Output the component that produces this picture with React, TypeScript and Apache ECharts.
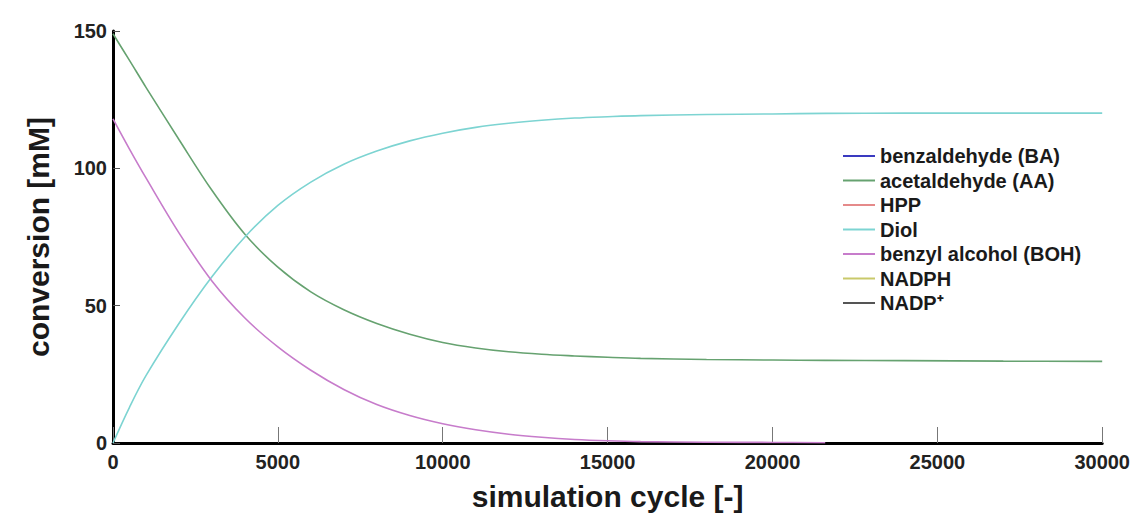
import React, { useEffect, useRef } from "react";
import * as echarts from "echarts";

// Simulation cycles at which concentrations were sampled
const cycles = [0, 500, 1000, 2000, 3000, 4000, 5000, 6000, 7000, 8000, 9000, 10000, 11000, 12000, 13000, 14000, 15000, 16000, 18000, 20000, 21600, 24000, 27000, 30000];

// Concentrations in mM
const benzaldehyde: (number | null)[] = [];
const acetaldehyde = [149, 139.3, 129.5, 110.5, 92, 76, 64, 55, 48.5, 43.5, 39.6, 36.6, 34.6, 33.2, 32.3, 31.7, 31.2, 30.8, 30.4, 30.2, 30.1, 30.0, 29.8, 29.7];
const hpp: (number | null)[] = [];
const diol = [0, 13, 24.5, 43.5, 60.5, 75, 86.5, 95, 101.5, 106.3, 110, 112.8, 114.9, 116.4, 117.5, 118.3, 118.8, 119.2, 119.6, 119.8, 120, 120.1, 120.1, 120.1];
const benzylAlcohol = [118, 107, 96.5, 76.5, 59, 45.5, 35, 26.5, 19.5, 14, 10, 7, 4.8, 3.2, 2.1, 1.3, 0.8, 0.5, 0.3, 0.2, 0.1, null, null, null];
const nadph: (number | null)[] = [];
const nadp: (number | null)[] = [];

const seriesNames = ["benzaldehyde (BA)", "acetaldehyde (AA)", "HPP", "Diol", "benzyl alcohol (BOH)", "NADPH", "NADP⁺"];
const seriesValues = [benzaldehyde, acetaldehyde, hpp, diol, benzylAlcohol, nadph, nadp];
const seriesColors = ["#3a3ac0", "#66a270", "#e58a8a", "#7dd4d2", "#c77ccb", "#c9c96a", "#555555"];

const xTicks = { min: 0, max: 30000, interval: 5000 };
const yTicks = { min: 0, max: 150, interval: 50 };

const FONT = "'Liberation Sans', Arial, sans-serif";

export default function App() {
  const ref = useRef<HTMLDivElement>(null);

  useEffect(() => {
    if (!ref.current) return;
    const chart = echarts.init(ref.current, undefined, { renderer: "svg" });

    const series = seriesNames.map((name, i) => ({
      name,
      type: "line" as const,
      data: seriesValues[i].map((v, j) => [cycles[j], v]),
      showSymbol: false,
      smooth: 0.35,
      connectNulls: false,
      lineStyle: { width: 1.6, color: seriesColors[i] },
      itemStyle: { color: seriesColors[i] },
    }));

    chart.setOption({
      animation: false,
      backgroundColor: "#ffffff",
      textStyle: { fontFamily: FONT },
      grid: { left: 113, right: 30, top: 31, bottom: 72, containLabel: false },
      legend: {
        data: seriesNames,
        orient: "vertical",
        left: 838,
        top: 141,
        icon: "rect",
        itemWidth: 32,
        itemHeight: 2,
        itemGap: 4.5,
        textStyle: { fontFamily: FONT, fontSize: 20, fontWeight: "bold", color: "#1a1a1a", lineHeight: 20 },
      },
      xAxis: {
        type: "value",
        min: xTicks.min,
        max: xTicks.max,
        interval: xTicks.interval,
        name: "simulation cycle [-]",
        nameLocation: "middle",
        nameGap: 38,
        nameTextStyle: { fontFamily: FONT, fontSize: 30, fontWeight: "bold", color: "#1a1a1a" },
        axisLine: { show: true, lineStyle: { color: "#000", width: 3 } },
        axisTick: { show: true, inside: true, length: 16, lineStyle: { color: "#777", width: 1 } },
        axisLabel: {
          fontFamily: FONT,
          fontSize: 20,
          fontWeight: "bold",
          color: "#222",
          margin: 9,
          formatter: (v: number) => String(v),
        },
        splitLine: { show: false },
      },
      yAxis: {
        type: "value",
        min: yTicks.min,
        max: yTicks.max,
        interval: yTicks.interval,
        name: "conversion [mM]",
        nameLocation: "middle",
        nameRotate: 90,
        nameGap: 60,
        nameTextStyle: { fontFamily: FONT, fontSize: 30, fontWeight: "bold", color: "#1a1a1a" },
        axisLine: { show: true, lineStyle: { color: "#000", width: 3 } },
        axisTick: { show: true, inside: true, length: 7, lineStyle: { color: "#555", width: 1 } },
        axisLabel: {
          fontFamily: FONT,
          fontSize: 20,
          fontWeight: "bold",
          color: "#222",
          margin: 6,
          formatter: (v: number) => String(v),
        },
        splitLine: { show: false },
      },
      series,
    });

    return () => chart.dispose();
  }, []);

  return <div ref={ref} style={{ width: 1133, height: 516, position: "absolute", left: 0, top: 0 }} />;
}
